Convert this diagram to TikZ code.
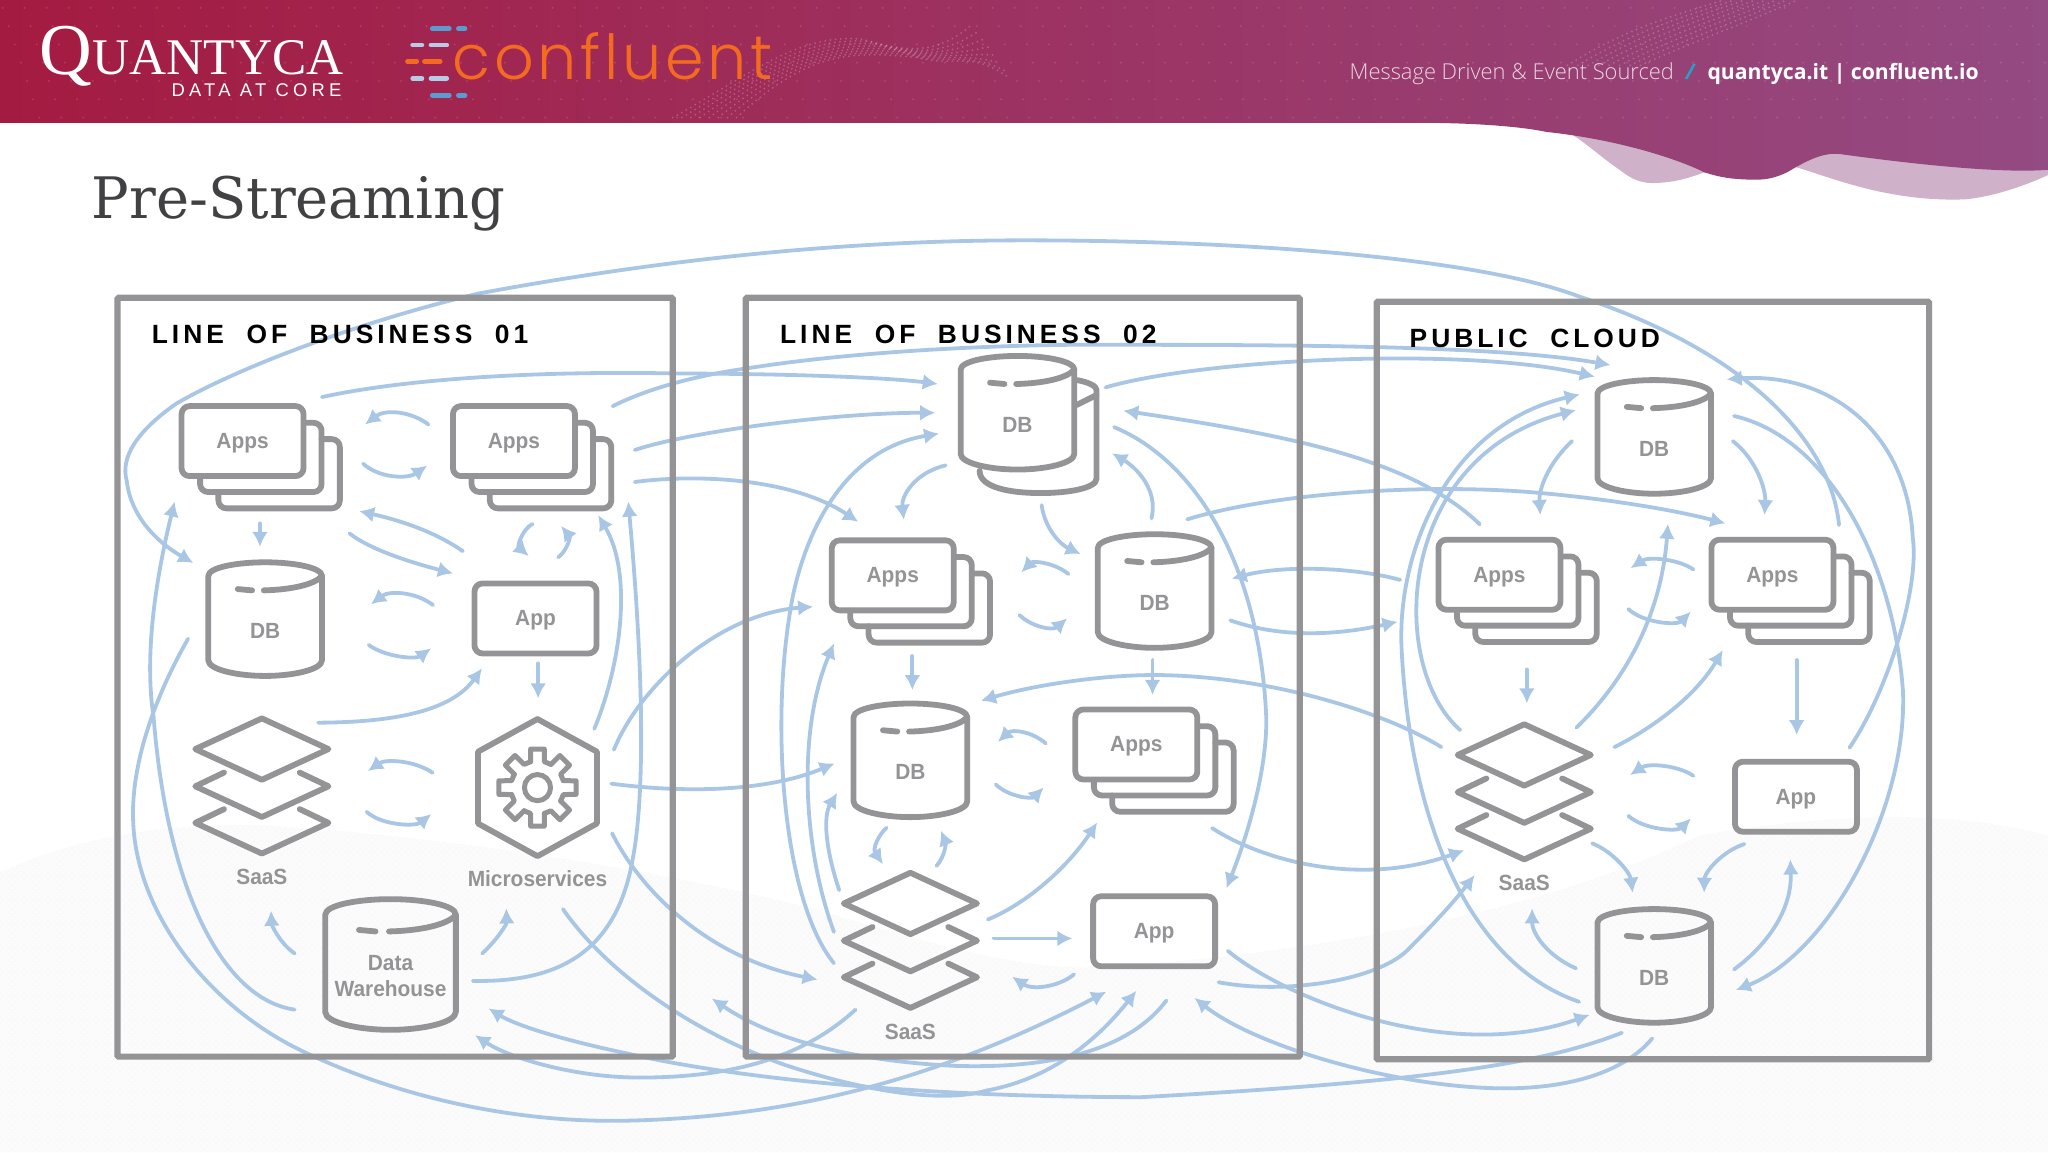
\documentclass[tikz,border=0pt]{standalone}
\usepackage{fontspec}
\usepackage{xcolor}
\usetikzlibrary{arrows.meta,patterns}
\newfontfamily\iconfont[FakeStretch=0.95]{Liberation Sans}
\newfontfamily\titlefont[FakeStretch=0.978]{DejaVu Serif}
\newfontfamily\logofont{Liberation Serif}
\newfontfamily\logosubfont[LetterSpace=23]{Liberation Sans}
\newfontfamily\conffont[LetterSpace=6,UprightFont=* Light]{Poppins}
\newfontfamily\headfont[LetterSpace=15,WordSpace=2]{Liberation Sans}
\newfontfamily\bannerfont{Open Sans}
\newfontfamily\bannerlight[UprightFont=* Light]{Open Sans}
\definecolor{iconcol}{HTML}{949496}
\definecolor{flowcol}{HTML}{A9C7E5}
\definecolor{titlecol}{HTML}{414042}
\definecolor{bannerA}{HTML}{A41B41}
\definecolor{bannerB}{HTML}{A23464}
\definecolor{bannerC}{HTML}{944A82}
\definecolor{palecol}{HTML}{CFB2C9}
\definecolor{confcol}{HTML}{F26B21}
\definecolor{barblue}{HTML}{5B9BD0}
\definecolor{barpale}{HTML}{B7CBE6}
\definecolor{slashcol}{HTML}{22A3C6}
\definecolor{bantext}{HTML}{EBD6E2}
\tikzset{
  flow/.style={draw=flowcol,line width=1.9pt,line cap=round,-{Latex[length=7.5pt,width=8pt]}},
  iconline/.style={draw=iconcol,line width=2.9pt,line join=round,line cap=round},
  iconlabel/.style={font=\iconfont\bfseries\fontsize{11}{13}\selectfont,text=iconcol,align=center,inner sep=0pt},
  appbox/.style={iconline,rounded corners=4pt,minimum width=61pt,minimum height=35pt,inner sep=0pt,iconlabel,text height=9.6pt,text depth=2.2pt},
  zonebox/.style={draw=iconcol,line width=3.1pt,rounded corners=0.6pt,inner sep=0pt},
  zonehead/.style={font=\headfont\bfseries\fontsize{13.2}{15}\selectfont,anchor=base west,inner sep=0pt},
  bannerdots/.style={draw=white,opacity=0.22,line width=1pt,line cap=round,dash pattern=on 0pt off 2.6pt},
  bannergrid/.style={draw=white,opacity=0.13,line width=1.1pt,line cap=round,dash pattern=on 0pt off 11pt},
}
\newcommand{\appstack}[2]{
\begin{scope}[shift={(#2)}]
\draw[iconline,rounded corners=4pt] (47,-14) -- (60.5,-14) -- (60.5,39) -- (-32.5,39) -- (-32.5,27);
\draw[iconline,rounded corners=4pt] (60.5,-1.5) -- (74.5,-1.5) -- (74.5,51.5) -- (-18.5,51.5) -- (-18.5,39);
\node[appbox] (#1) at (0,0) {Apps};
\end{scope}}
\newcommand{\dbicon}[4][1]{
\begin{scope}[shift={(#3)},scale=#1]
\draw[iconline] (-43.5,-33.5) .. controls (-43.5,-40) and (-22,-44) .. (0,-44) .. controls (22,-44) and (43.5,-40) .. (43.5,-33.5) -- (43.5,31) .. controls (43.5,38) and (22,43) .. (0,43) .. controls (-22,43) and (-43.5,38) .. (-43.5,31) -- cycle;
\draw[iconline] (43.5,-33.5) .. controls (38,-27) and (20,-23) .. (-1,-22.5);
\draw[iconline] (-21,-23.5) -- (-10,-22.5);
\end{scope}
\node[iconlabel] (#2) at ([shift={(0,8.5)}]#3) {#4};}
\newcommand{\saasicon}[2]{
\begin{scope}[shift={(#2)}]
\draw[iconline] (-51,0) -- (0,-23.5) -- (51,0) -- (0,23.5) -- cycle;
\draw[iconline] (-29,18) -- (-51,28.5) -- (0,52) -- (51,28.5) -- (29,18);
\draw[iconline] (-29,46) -- (-51,56.5) -- (0,80) -- (51,56.5) -- (29,46);
\node[iconlabel] (#1) at (0,98) {SaaS};
\end{scope}}
\begin{document}
\begin{tikzpicture}[x=0.65306pt,y=-0.65306pt]
\useasboundingbox (0,0) rectangle (1568,882);
\fill[white] (0,0) rectangle (1568,882);
\fill[gray!4] (0,668) .. controls (60,640) and (130,630) .. (200,632) .. controls (350,640) and (520,670) .. (620,695) .. controls (720,725) and (790,745) .. (850,740) .. controls (1000,730) and (1180,700) .. (1300,640) .. controls (1400,622) and (1500,620) .. (1568,640) -- (1568,882) -- (0,882) -- cycle;
\fill[pattern=crosshatch dots,pattern color=white] (0,668) .. controls (60,640) and (130,630) .. (200,632) .. controls (350,640) and (520,670) .. (620,695) .. controls (720,725) and (790,745) .. (850,740) .. controls (1000,730) and (1180,700) .. (1300,640) .. controls (1400,622) and (1500,620) .. (1568,640) -- (1568,882) -- (0,882) -- cycle;
\fill[palecol] (1190,95) .. controls (1210,105) and (1225,120) .. (1240,130) .. controls (1250,138) and (1258,141) .. (1270,140) .. controls (1285,139) and (1295,136) .. (1315,128) -- (1375,128) .. controls (1400,135) and (1445,155) .. (1505,152.6) .. controls (1530,150) and (1555,140) .. (1568,134) -- (1568,95) -- cycle;
\shade[left color=bannerA,middle color=bannerB,right color=bannerC] (0,0) -- (1568,0) -- (1568,130) .. controls (1530,133) and (1460,125) .. (1409,118) .. controls (1395,116) and (1380,125) .. (1369,131.5) .. controls (1358,137) and (1350,138) .. (1339,137.5) .. controls (1325,137) and (1318,136) .. (1305,132) .. controls (1285,122) and (1240,107) .. (1184,101) .. controls (1165,97) and (1130,94) .. (1084,94) -- (0,94) -- cycle;
\foreach \y in {6,20,34,48,62,76,90} {
\draw[bannergrid] ({\y/3},\y) -- (1568,\y);
}
\foreach \k in {0,...,7} {
\draw[bannerdots] ({515+7*\k},90) .. controls ({570+7*\k},{60-3*\k}) and ({610+6*\k},{25+2*\k}) .. ({660+6*\k},{30+2*\k}) .. controls ({690+6*\k},{38+2*\k}) and ({715+4*\k},{45-\k}) .. ({745+4*\k},{18+6*\k});
\draw[bannerdots] ({1200+8*\k},50) .. controls ({1240+8*\k},{25+\k}) and ({1270+8*\k},{15+\k}) .. ({1320+8*\k},0);
}
\node[anchor=base west,inner sep=0pt,text=white,font=\logofont] (quantyca) at (30,57) {\fontsize{36.5}{36.5}\selectfont Q\fontsize{25.7}{26}\selectfont UANTYCA};
\node[anchor=base west,inner sep=0pt,text=white,font=\logosubfont\fontsize{9.2}{10}\selectfont] (coretag) at (131,74) {DATA AT CORE};
\draw[barblue,line width=2.4pt,line cap=round] (331,22) -- (344,22) (351,22) -- (356,22) (331,73) -- (344,73) (351,73) -- (356,73);
\draw[barpale,line width=2.4pt,line cap=round] (316,34.5) -- (323,34.5) (330,34.5) -- (342,34.5) (316,60) -- (323,60) (330,60) -- (342,60);
\draw[confcol,line width=2.4pt,line cap=round] (312,47) -- (319,47) (325,47) -- (337,47);
\node[anchor=base west,inner sep=0pt,text=confcol,font=\conffont\fontsize{31}{31}\selectfont] (confluent) at (346,60.5) {confluent};
\node[anchor=base west,inner sep=0pt,font=\bannerlight\fontsize{10.95}{13}\selectfont,text=bantext] (tagline) at (1033,60.7) {Message Driven \& Event Sourced};
\node[anchor=base,inner sep=0pt,font=\bannerfont\bfseries\itshape\fontsize{10.6}{13}\selectfont,text=slashcol] (slashmark) at (1294,60.7) {/};
\node[anchor=base west,inner sep=0pt,font=\bannerfont\bfseries\fontsize{10.6}{13}\selectfont,text=white] (sites) at (1307,60.7) {quantyca.it | confluent.io};
\node[anchor=base west,inner sep=0pt,font=\titlefont\fontsize{28.6}{32}\selectfont,text=titlecol] (title) at (70,167) {Pre-Streaming};

\coordinate (f1a) at (328,325); \coordinate (f1b) at (279.5,325);
\draw[flow] (f1a) .. controls (315,315) and (295,313) .. (f1b);
\coordinate (f2a) at (278,355); \coordinate (f2b) at (327,356.5);
\draw[flow] (f2a) .. controls (290,366) and (312,367) .. (f2b);
\coordinate (f3a) at (199,400.7); \coordinate (f3b) at (199,418.6);
\draw[flow] (f3a) -- (f3b);
\coordinate (f4a) at (354.4,422); \coordinate (f4b) at (275,391.3);
\draw[flow] (f4a) .. controls (330,405) and (300,397) .. (f4b);
\coordinate (f5a) at (267.6,408.4); \coordinate (f5b) at (346.8,439);
\draw[flow] (f5a) .. controls (285,422) and (320,432) .. (f5b);
\coordinate (f6a) at (407.7,401.2); \coordinate (f6b) at (404.8,425.7);
\draw[flow] (f6a) .. controls (400,405) and (396,418) .. (f6b);
\coordinate (f7a) at (427.3,426.7); \coordinate (f7b) at (429.7,402.7);
\draw[flow] (f7a) .. controls (433,423) and (437,412) .. (f7b);
\coordinate (f8a) at (331.5,463.2); \coordinate (f8b) at (284,462.7);
\draw[flow] (f8a) .. controls (318,453) and (298,452) .. (f8b);
\coordinate (f9a) at (282.3,493.8); \coordinate (f9b) at (330,496.4);
\draw[flow] (f9a) .. controls (295,503) and (318,505) .. (f9b);
\coordinate (f10a) at (243.6,553.3); \coordinate (f10b) at (369,511.7);
\draw[flow] (f10a) .. controls (300,553) and (345,545) .. (f10b);
\coordinate (f11a) at (412,507.9); \coordinate (f11b) at (412,534.7);
\draw[flow] (f11a) -- (f11b);
\coordinate (f12a) at (331.2,591.6); \coordinate (f12b) at (281.7,590.4);
\draw[flow] (f12a) .. controls (317,582) and (295,581) .. (f12b);
\coordinate (f13a) at (280.7,621.5); \coordinate (f13b) at (330.2,623.3);
\draw[flow] (f13a) .. controls (292,632) and (318,633) .. (f13b);
\coordinate (f14a) at (225.6,730); \coordinate (f14b) at (207.5,697.3);
\draw[flow] (f14a) .. controls (214,722) and (208,708) .. (f14b);
\coordinate (f15a) at (369.2,730); \coordinate (f15b) at (387.6,695.5);
\draw[flow] (f15a) .. controls (380,720) and (388,708) .. (f15b);
\coordinate (f16a) at (1408,402); \coordinate (f16b) at (148,431);
\draw[flow] (f16a) .. controls (1402,340) and (1340,270) .. (1209,227) .. controls (1130,197) and (950,184) .. (784,184) .. controls (640,184) and (500,200) .. (367,224.6) .. controls (280,245) and (185,280) .. (135,309) .. controls (105,330) and (92,350) .. (97,368) .. controls (100,395) and (120,415) .. (f16b);
\coordinate (f17a) at (246.5,304); \coordinate (f17b) at (718,294);
\draw[flow] (f17a) .. controls (320,288) and (430,284) .. (520,286) .. controls (600,286) and (680,289) .. (f17b);
\coordinate (f18a) at (469,311); \coordinate (f18b) at (1233,279.5);
\draw[flow] (f18a) .. controls (495,298) and (530,288) .. (572,282) .. controls (660,268) and (780,263) .. (860,264) .. controls (1000,264) and (1150,265) .. (f18b);
\coordinate (f19a) at (486,344.5); \coordinate (f19b) at (716,316);
\draw[flow] (f19a) .. controls (530,330) and (640,316) .. (f19b);
\coordinate (f20a) at (486,369); \coordinate (f20b) at (657,399.5);
\draw[flow] (f20a) .. controls (540,362) and (610,368) .. (f20b);
\coordinate (f21a) at (455,558); \coordinate (f21b) at (458,394.5);
\draw[flow] (f21a) .. controls (475,510) and (485,440) .. (f21b);
\coordinate (f22a) at (362,751); \coordinate (f22b) at (481,384);
\draw[flow] (f22a) .. controls (420,752) and (470,735) .. (484,660) .. controls (492,620) and (495,540) .. (f22b);
\coordinate (f23a) at (470,574); \coordinate (f23b) at (622.5,464.5);
\draw[flow] (f23a) .. controls (490,525) and (550,470) .. (f23b);
\coordinate (f24a) at (468,600); \coordinate (f24b) at (639,584.5);
\draw[flow] (f24a) .. controls (530,608) and (590,605) .. (f24b);
\coordinate (f25a) at (468.6,638); \coordinate (f25b) at (626,750);
\draw[flow] (f25a) .. controls (495,690) and (550,735) .. (f25b);
\coordinate (f26a) at (431,696); \coordinate (f26b) at (870,758.6);
\draw[flow] (f26a) .. controls (465,745) and (530,790) .. (600,815) .. controls (660,835) and (720,845) .. (755,835) .. controls (810,825) and (845,790) .. (f26b);
\coordinate (f27a) at (1241.7,790.7); \coordinate (f27b) at (374,772);
\draw[flow] (f27a) .. controls (1180,815) and (1090,828) .. (874,840) .. controls (700,840) and (560,825) .. (480,806.5) .. controls (430,796) and (395,785) .. (f27b);
\coordinate (f28a) at (655,773); \coordinate (f28b) at (363.7,792.5);
\draw[flow] (f28a) .. controls (620,805) and (570,825) .. (490,825) .. controls (440,825) and (390,810) .. (f28b);
\coordinate (f29a) at (893,766); \coordinate (f29b) at (545,764.5);
\draw[flow] (f29a) .. controls (860,810) and (790,818) .. (730,816) .. controls (650,812) and (590,795) .. (f29b);
\coordinate (f30a) at (144,489); \coordinate (f30b) at (847,759.3);
\draw[flow] (f30a) .. controls (115,540) and (100,590) .. (102,630) .. controls (105,700) and (160,770) .. (230,804) .. controls (300,838) and (390,860) .. (480,858) .. controls (620,855) and (730,820) .. (f30b);
\coordinate (f31a) at (225.6,773); \coordinate (f31b) at (133.7,384);
\draw[flow] (f31a) .. controls (170,765) and (128,680) .. (117.6,549) .. controls (110,500) and (120,440) .. (f31b);
\coordinate (f32a) at (1265,795); \coordinate (f32b) at (914.5,764);
\draw[flow] (f32a) .. controls (1240,825) and (1190,835) .. (1140,833) .. controls (1060,830) and (960,800) .. (f32b);
\coordinate (f33a) at (724,356.3); \coordinate (f33b) at (692,398);
\draw[flow] (f33a) .. controls (700,362) and (690,380) .. (f33b);
\coordinate (f34a) at (797.5,386.7); \coordinate (f34b) at (827.4,424.2);
\draw[flow] (f34a) .. controls (800,405) and (812,417) .. (f34b);
\coordinate (f35a) at (881.6,396.9); \coordinate (f35b) at (851.4,347);
\draw[flow] (f35a) .. controls (887,375) and (870,358) .. (f35b);
\coordinate (f36a) at (638.5,737.5); \coordinate (f36b) at (719,332);
\draw[flow] (f36a) .. controls (600,690) and (590,560) .. (604.7,469.6) .. controls (612,420) and (640,345) .. (f36b);
\coordinate (f37a) at (1133,401.5); \coordinate (f37b) at (860,314.5);
\draw[flow] (f37a) .. controls (1085,355) and (1000,335) .. (f37b);
\coordinate (f38a) at (846.4,296.6); \coordinate (f38b) at (1221,288.4);
\draw[flow] (f38a) .. controls (920,275) and (1120,265) .. (f38b);
\coordinate (f39a) at (853,327); \coordinate (f39b) at (939,680);
\draw[flow] (f39a) .. controls (920,355) and (965,440) .. (969.5,550) .. controls (970,590) and (955,640) .. (f39b);
\coordinate (f40a) at (909,397.6); \coordinate (f40b) at (1321,400.7);
\draw[flow] (f40a) .. controls (980,376) and (1100,370) .. (1180,377.5) .. controls (1230,382) and (1280,390) .. (f40b);
\coordinate (f41a) at (1072,444); \coordinate (f41b) at (943,443);
\draw[flow] (f41a) .. controls (1040,435) and (985,432) .. (f41b);
\coordinate (f42a) at (942,475); \coordinate (f42b) at (1070,476);
\draw[flow] (f42a) .. controls (985,490) and (1030,485) .. (f42b);
\coordinate (f43a) at (818,439.5); \coordinate (f43b) at (782,438.2);
\draw[flow] (f43a) .. controls (808,431) and (791,429) .. (f43b);
\coordinate (f44a) at (780.5,470.9); \coordinate (f44b) at (817,473.4);
\draw[flow] (f44a) .. controls (790,480) and (806,483) .. (f44b);
\coordinate (f45a) at (698.5,502.3); \coordinate (f45b) at (698.5,528.3);
\draw[flow] (f45a) -- (f45b);
\coordinate (f46a) at (882.4,505.3); \coordinate (f46b) at (882.4,532);
\draw[flow] (f46a) -- (f46b);
\coordinate (f47a) at (1103.5,572); \coordinate (f47b) at (751,536.5);
\draw[flow] (f47a) .. controls (1060,545) and (970,517) .. (883,516.8) .. controls (840,517) and (790,525) .. (f47b);
\coordinate (f48a) at (638.5,713.5); \coordinate (f48b) at (638.5,492.6);
\draw[flow] (f48a) .. controls (615,650) and (610,560) .. (f48b);
\coordinate (f49a) at (642.5,681.5); \coordinate (f49b) at (641,607);
\draw[flow] (f49a) .. controls (632,650) and (630,625) .. (f49b);
\coordinate (f50a) at (678.7,633.7); \coordinate (f50b) at (676,661.6);
\draw[flow] (f50a) .. controls (672,640) and (668,650) .. (f50b);
\coordinate (f51a) at (717,663); \coordinate (f51b) at (720.4,636);
\draw[flow] (f51a) .. controls (724,655) and (724,645) .. (f51b);
\coordinate (f52a) at (800.7,569.2); \coordinate (f52b) at (764,568);
\draw[flow] (f52a) .. controls (790,560) and (775,558) .. (f52b);
\coordinate (f53a) at (762.4,600.6); \coordinate (f53b) at (799,602.9);
\draw[flow] (f53a) .. controls (772,610) and (790,612) .. (f53b);
\coordinate (f54a) at (756.3,704); \coordinate (f54b) at (840,629.7);
\draw[flow] (f54a) .. controls (790,690) and (820,660) .. (f54b);
\coordinate (f55a) at (760.7,718.5); \coordinate (f55b) at (821,718.5);
\draw[flow] (f55a) -- (f55b);
\coordinate (f56a) at (822.3,746); \coordinate (f56b) at (775,747.8);
\draw[flow] (f56a) .. controls (810,756) and (790,758) .. (f56b);
\coordinate (f57a) at (928,634); \coordinate (f57b) at (1121,651);
\draw[flow] (f57a) .. controls (965,658) and (1040,680) .. (f57b);
\coordinate (f58a) at (933,752); \coordinate (f58b) at (1129,670);
\draw[flow] (f58a) .. controls (985,762) and (1055,750) .. (1077.6,727.4) .. controls (1095,710) and (1112,692) .. (f58b);
\coordinate (f59a) at (940,728); \coordinate (f59b) at (1217,777);
\draw[flow] (f59a) .. controls (985,765) and (1110,815) .. (f59b);
\coordinate (f60a) at (1203.6,337.7); \coordinate (f60b) at (1179.3,394.3);
\draw[flow] (f60a) .. controls (1185,355) and (1178,375) .. (f60b);
\coordinate (f61a) at (1326.7,337.7); \coordinate (f61b) at (1351,394.3);
\draw[flow] (f61a) .. controls (1345,352) and (1352,375) .. (f61b);
\coordinate (f62a) at (1209,767); \coordinate (f62b) at (1209.5,302);
\draw[flow] (f62a) .. controls (1130,740) and (1080,640) .. (1073,495) .. controls (1070,420) and (1110,325) .. (f62b);
\coordinate (f63a) at (1118,559); \coordinate (f63b) at (1206.5,314);
\draw[flow] (f63a) .. controls (1062,510) and (1068,350) .. (f63b);
\coordinate (f64a) at (1169,512.5); \coordinate (f64b) at (1169,538.5);
\draw[flow] (f64a) -- (f64b);
\coordinate (f65a) at (1207,557); \coordinate (f65b) at (1277,401);
\draw[flow] (f65a) .. controls (1245,520) and (1272,470) .. (f65b);
\coordinate (f66a) at (1296.5,436); \coordinate (f66b) at (1248.5,435);
\draw[flow] (f66a) .. controls (1285,428) and (1262,426) .. (f66b);
\coordinate (f67a) at (1246.7,466.3); \coordinate (f67b) at (1294.5,468.3);
\draw[flow] (f67a) .. controls (1258,477) and (1284,479) .. (f67b);
\coordinate (f68a) at (1236,572); \coordinate (f68b) at (1319,497.7);
\draw[flow] (f68a) .. controls (1270,555) and (1300,530) .. (f68b);
\coordinate (f69a) at (1375.6,505.3); \coordinate (f69b) at (1375.6,562.8);
\draw[flow] (f69a) -- (f69b);
\coordinate (f70a) at (1416,572.5); \coordinate (f70b) at (1322,290.4);
\draw[flow] (f70a) .. controls (1445,530) and (1470,450) .. (1464.4,411) .. controls (1460,330) and (1400,285) .. (f70b);
\coordinate (f71a) at (1327.6,318.5); \coordinate (f71b) at (1329,758);
\draw[flow] (f71a) .. controls (1400,335) and (1450,430) .. (1457,530) .. controls (1460,620) and (1400,730) .. (f71b);
\coordinate (f72a) at (1296.5,594); \coordinate (f72b) at (1248,593.4);
\draw[flow] (f72a) .. controls (1285,586) and (1262,584) .. (f72b);
\coordinate (f73a) at (1246.7,624.6); \coordinate (f73b) at (1294.5,626.6);
\draw[flow] (f73a) .. controls (1258,635) and (1284,637) .. (f73b);
\coordinate (f74a) at (1219,645.7); \coordinate (f74b) at (1250,683.5);
\draw[flow] (f74a) .. controls (1235,652) and (1248,668) .. (f74b);
\coordinate (f75a) at (1335.5,646.2); \coordinate (f75b) at (1304.7,683.5);
\draw[flow] (f75a) .. controls (1318,652) and (1305,668) .. (f75b);
\coordinate (f76a) at (1206.6,741.4); \coordinate (f76b) at (1173,695.5);
\draw[flow] (f76a) .. controls (1185,732) and (1173,715) .. (f76b);
\coordinate (f77a) at (1327.6,742.2); \coordinate (f77b) at (1370.7,658);
\draw[flow] (f77a) .. controls (1355,722) and (1372,695) .. (f77b);

\node[zonebox,minimum width=277.6pt,minimum height=379.4pt] (lobOne) at (302.5,518.5) {};
\node[zonebox,minimum width=277pt,minimum height=379.4pt] (lobTwo) at (783,518.5) {};
\node[zonebox,minimum width=276.2pt,minimum height=378.8pt] (cloud) at (1265.5,521) {};
\node[zonehead] (lobOneHead) at (116,263) {LINE OF BUSINESS 01};
\node[zonehead] (lobTwoHead) at (597,263) {LINE OF BUSINESS 02};
\node[zonehead] (cloudHead) at (1079,266) {PUBLIC CLOUD};

\appstack{lobOneAppsA}{185.7,337.7}
\appstack{lobOneAppsB}{393.5,337.7}
\node[appbox] (lobOneApp) at (410,473.5) {App};
\dbicon{lobOneDb}{203,474.5}{DB}
\saasicon{lobOneSaas}{200.5,573.5}
\begin{scope}[shift={(411.5,603)}]
\draw[iconline] (0,-52.5) -- (45.5,-27.5) -- (45.5,27.5) -- (0,52.5) -- (-45.5,27.5) -- (-45.5,-27.5) -- cycle;
\foreach \a in {0,45,...,315} {
\draw[iconline,line width=2.5pt] ({\a-15}:20.5) -- ({\a-10}:30) -- ({\a+10}:30) -- ({\a+15}:20.5) -- ({\a+30}:20.5);
}
\draw[iconline,line width=2.5pt] (0,0) circle (10);
\node[iconlabel] (lobOneMicro) at (0,69.5) {Microservices};
\end{scope}
\dbicon[1.15]{lobOneWarehouse}{299,739}{Data\\Warehouse}

\begin{scope}[shift={(779,316.5)}]
\draw[iconline] (45.5,-25.5) .. controls (54,-24) and (60.5,-21) .. (60.5,-18) -- (60.5,50) .. controls (60.5,57) and (40,61) .. (17.6,61) .. controls (-5,61) and (-29,57) .. (-29,44);
\draw[iconline] (45.5,-6.5) -- (60.5,-14);
\end{scope}
\dbicon{lobTwoDbA}{779,316.5}{DB}
\appstack{lobTwoAppsA}{683.5,440.5}
\dbicon{lobTwoDbB}{884,453}{DB}
\dbicon{lobTwoDbC}{697,582.6}{DB}
\appstack{lobTwoAppsB}{870,570}
\node[appbox] (lobTwoApp) at (883.6,713) {App};
\saasicon{lobTwoSaas}{697,691.7}

\dbicon{cloudDbA}{1266.5,335}{DB}
\appstack{cloudAppsA}{1148,440}
\appstack{cloudAppsB}{1357,440}
\node[appbox] (cloudApp) at (1375,610) {App};
\saasicon{cloudSaas}{1167,578}
\dbicon{cloudDbB}{1266.5,740}{DB}
\end{tikzpicture}
\end{document}
